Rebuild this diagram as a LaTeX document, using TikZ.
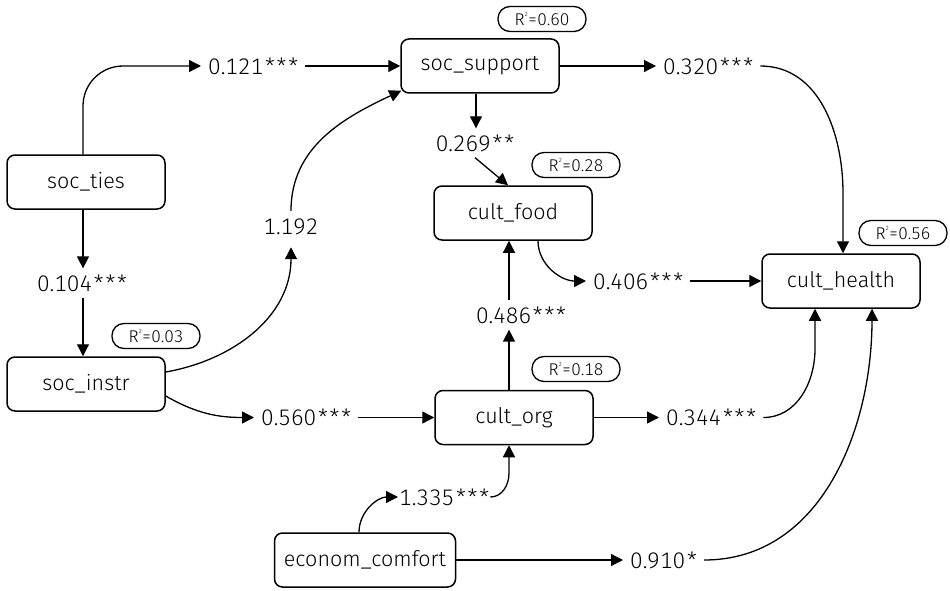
\documentclass[tikz,border=0pt]{standalone}
\usepackage{fontspec}
\IfFontExistsTF{Fira Sans Light}{\setmainfont{Fira Sans Light}[Numbers=Monospaced]}{\setmainfont{Fira Sans}[Numbers=Monospaced]}
\usetikzlibrary{arrows.meta,calc}
\newcommand\mainsz{\fontsize{21.5}{24}\selectfont}
\newcommand\coefsz{\fontsize{22.5}{26}\selectfont}
\newcommand\rsz{\fontsize{17}{19}\selectfont}
\newcommand\sA{\kern1.8pt*}
\newcommand\rsq[1]{R\raisebox{0.55em}{\fontsize{6}{6}\selectfont 2}=#1}
\tikzset{
  var/.style={draw, line width=1.5pt, rounded corners=8pt, minimum width=158pt, minimum height=54pt, inner sep=0pt, font=\mainsz},
  rbox/.style={draw, line width=1.3pt, rounded corners=12pt, minimum width=88pt, minimum height=25pt, inner sep=0pt, font=\rsz},
  coef/.style={inner xsep=7pt, inner ysep=6pt, font=\coefsz},
  arr/.style={line width=1.3pt, -{Triangle[length=12pt,width=12pt]}}
}
\begin{document}
\begin{tikzpicture}[x=1pt,y=1pt]
\useasboundingbox (0,0) rectangle (950,-591);
% variables
\node[var] (soc_ties) at (86,-182) {soc\_ties};
\node[var] (soc_support) at (480,-66) {soc\_support};
\node[var] (cult_food) at (513,-213) {cult\_food};
\node[var] (cult_health) at (841,-281) {cult\_health};
\node[var] (soc_instr) at (86,-384) {soc\_instr};
\node[var] (cult_org) at (514,-417.5) {cult\_org};
\node[var, minimum width=181pt] (econom_comfort) at (365,-560) {econom\_comfort};
% R2 boxes
\node[rbox] (r60) at (542,-19) {\rsq{0.60}};
\node[rbox] (r28) at (576,-165) {\rsq{0.28}};
\node[rbox] (r56) at (903,-233) {\rsq{0.56}};
\node[rbox] (r03) at (156,-336) {\rsq{0.03}};
\node[rbox] (r18) at (576,-369) {\rsq{0.18}};
% coefficients
\node[coef, anchor=west] (l121) at (201,-66) {0.121\sA\sA\sA};
\node[coef, anchor=west] (l320) at (656,-66) {0.320\sA\sA\sA};
\node[coef] (l269) at (475,-143) {0.269\sA\sA};
\node[coef] (l104) at (82,-283) {0.104\sA\sA\sA};
\node[coef] (l192) at (291,-227) {1.192};
\node[coef, anchor=west] (l406) at (586,-281) {0.406\sA\sA\sA};
\node[coef] (l486) at (521,-315) {0.486\sA\sA\sA};
\node[coef, anchor=west] (l560) at (254,-417.5) {0.560\sA\sA\sA};
\node[coef, anchor=west] (l344) at (659,-417.5) {0.344\sA\sA\sA};
\node[coef, anchor=west, inner xsep=1pt] (l1335) at (398,-497) {1.335\sA\sA\sA};
\node[coef, anchor=west] (l910) at (623,-560) {0.910\sA};
% columns
\coordinate (xa) at (83,0);
\coordinate (xb) at (476,0);
\coordinate (xc) at (509,0);
\coordinate (xd) at (538,0);
\coordinate (xe) at (843,0);
\coordinate (xf) at (815,0);
\coordinate (xg) at (872,0);
\coordinate (xh) at (359,0);
\coordinate (xi) at (291,0);
% connectors
\draw[arr, rounded corners=40pt] (soc_ties.north -| xa) |- (l121.west);
\draw[arr] (l121.east) -- (soc_support.west);
\draw[arr] (soc_support.east) -- (l320.west);
\draw[arr] (l320.east) to[out=0,in=90] ($(cult_health.north -| xe)+(0,60)$) -- (cult_health.north -| xe);
\draw[arr] (soc_support.south -| xb) -- (l269.north -| xb);
\draw[arr] (l269.south) -- ($(cult_food.north)+(-5,0)$);
\draw[arr] (soc_ties.south -| xa) -- (l104.north -| xa);
\draw[arr] (l104.south -| xa) -- (soc_instr.north -| xa);
\draw[arr] ($(soc_instr.east)+(0,12)$) to[out=10,in=-90] ($(l192.south -| xi)+(0,-6)$);
\draw[arr] ($(l192.north -| xi)+(0,2)$) to[out=90,in=205] ($(soc_support.south west)+(1,3)$);
\draw[arr] ($(soc_instr.east)+(0,-12)$) to[out=-30,in=180] (l560.west);
\draw[arr] (l560.east) -- (cult_org.west);
\draw[arr] (cult_org.north -| xc) -- (l486.south -| xc);
\draw[arr] (l486.north -| xc) -- (cult_food.south -| xc);
\draw[arr] (cult_food.south -| xd) to[out=-90,in=180] (l406.west);
\draw[arr] (l406.east) -- (cult_health.west);
\draw[arr] (cult_org.east) -- (l344.west);
\draw[arr] (l344.east) to[out=0,in=-90] ($(cult_health.south -| xf)+(0,-40)$) -- (cult_health.south -| xf);
\draw[arr] (econom_comfort.north -| xh) to[out=90,in=180] (l1335.west);
\draw[arr] (l1335.east) to[out=0,in=-90] ($(cult_org.south -| xc)+(0,-28)$) -- (cult_org.south -| xc);
\draw[arr] (econom_comfort.east) -- (l910.west);
\draw[arr] (l910.east) to[out=0,in=-90] (cult_health.south -| xg);
\end{tikzpicture}
\end{document}
